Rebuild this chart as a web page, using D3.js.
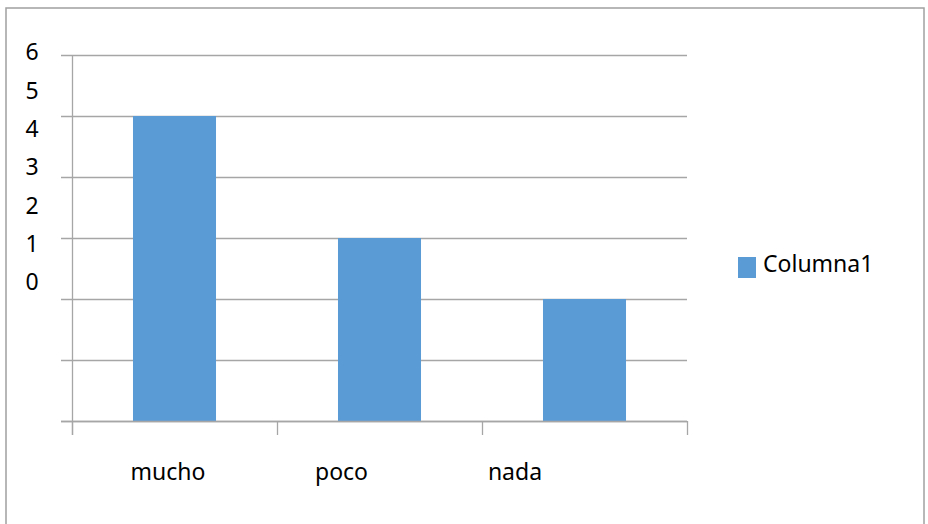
<!DOCTYPE html>
<html>
<head>
<meta charset="utf-8">
<script src="https://cdn.jsdelivr.net/npm/d3@7"></script>
<style>
  body { margin: 0; background: #fff; }
  text { font-family: "Noto Sans", sans-serif; fill: #000; }
</style>
</head>
<body>
<svg width="928" height="524"></svg>
<script>
// data
var categories = ["mucho", "poco", "nada"];
var values = [5, 3, 2];
var tickLabels = [6, 5, 4, 3, 2, 1, 0];
var seriesName = "Columna1";

var svg = d3.select("svg");
var gridColor = "#a6a6a6";
var barColor = "#5b9bd5";

// outer frame
svg.append("rect")
  .attr("x", 6).attr("y", 8)
  .attr("width", 918).attr("height", 530)
  .attr("fill", "none")
  .attr("stroke", "#a0a0a0")
  .attr("stroke-width", 1.5);

// scales
var x = d3.scaleBand()
  .domain(categories)
  .range([72, 687])
  .paddingInner(0.595)
  .paddingOuter(0.2975);

var y = d3.scaleLinear()
  .domain([0, 6])
  .range([421, 55]);

// tick labels sit on their own (squeezed) scale, as in the original
var yLabel = d3.scaleLinear()
  .domain([0, 6])
  .range([282, 52]);

var xLabel = d3.scalePoint()
  .domain(categories)
  .range([168, 515]);

// gridlines + left ticks
svg.append("g")
  .selectAll("line")
  .data(d3.range(0, 7))
  .join("line")
  .attr("x1", 61).attr("x2", 687)
  .attr("y1", d => y(d) + 0.5).attr("y2", d => y(d) + 0.5)
  .attr("stroke", gridColor)
  .attr("stroke-width", 1.3);

// y axis line
svg.append("line")
  .attr("x1", 72.5).attr("x2", 72.5)
  .attr("y1", y(6)).attr("y2", 435)
  .attr("stroke", gridColor).attr("stroke-width", 1.3);

// bars
svg.append("g")
  .selectAll("rect")
  .data(values)
  .join("rect")
  .attr("x", (d, i) => x(categories[i]))
  .attr("width", x.bandwidth())
  .attr("y", d => y(d))
  .attr("height", d => y(0) - y(d))
  .attr("fill", barColor);

// bottom axis line + category ticks
svg.append("line")
  .attr("x1", 61).attr("x2", 687)
  .attr("y1", y(0) + 0.5).attr("y2", y(0) + 0.5)
  .attr("stroke", gridColor).attr("stroke-width", 1.3);

var xTicks = categories.map(c => x(c) - x.step() * x.paddingInner() / 2);
xTicks.push(687);
svg.append("g")
  .selectAll("line")
  .data(xTicks)
  .join("line")
  .attr("x1", d => Math.round(d) + 0.5).attr("x2", d => Math.round(d) + 0.5)
  .attr("y1", y(0)).attr("y2", 435)
  .attr("stroke", gridColor).attr("stroke-width", 1.3);

// y tick labels
svg.append("g")
  .selectAll("text")
  .data(tickLabels)
  .join("text")
  .attr("x", 32)
  .attr("y", d => yLabel(d))
  .attr("dy", "0.36em")
  .attr("text-anchor", "middle")
  .style("font-size", "23px")
  .text(d => d);

// category labels
svg.append("g")
  .selectAll("text")
  .data(categories)
  .join("text")
  .attr("x", d => xLabel(d))
  .attr("y", 472)
  .attr("dy", "0.36em")
  .attr("text-anchor", "middle")
  .style("font-size", "23px")
  .text(d => d);

// legend
svg.append("rect")
  .attr("x", 738).attr("y", 257)
  .attr("width", 18).attr("height", 21)
  .attr("fill", barColor);
svg.append("text")
  .attr("x", 763).attr("y", 264)
  .attr("dy", "0.36em")
  .style("font-size", "23px")
  .text(seriesName);
</script>
</body>
</html>
